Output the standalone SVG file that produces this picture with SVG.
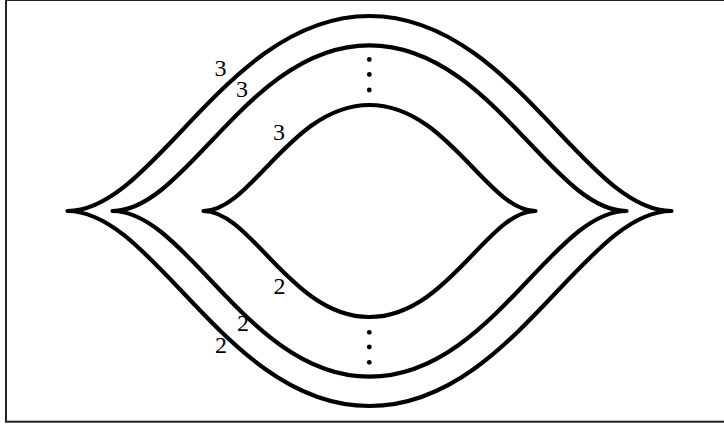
<svg xmlns="http://www.w3.org/2000/svg" width="724" height="425" viewBox="0 0 724 425">
  <style>
    .loop { fill: none; stroke: #000; stroke-width: 4.2; stroke-linecap: round; stroke-linejoin: round; }
    .lbl { font-family: "Liberation Serif", "Times New Roman", serif; font-size: 24px; fill: #000; text-anchor: middle; }
    .dot { fill: #000; }
  </style>
  <rect width="724" height="425" fill="#fff"/>
  <rect x="6" y="0" width="740" height="421.7" fill="none" stroke="#222" stroke-width="2"/>
  <g id="loops">
    <path id="outer" class="loop" d="M67.5,211 C155.1,211 227.6,16 369.5,16 C511.4,16 583.9,211 671.5,211 C583.9,211 511.4,406 369.5,406 C227.6,406 155.1,211 67.5,211 Z"/>
    <path id="middle" class="loop" d="M112.5,211 C187,211 248.7,45.3 369.5,45.3 C490.3,45.3 552,211 626.5,211 C552,211 490.3,376.7 369.5,376.7 C248.7,376.7 187,211 112.5,211 Z"/>
    <path id="inner" class="loop" d="M203.5,211 C251.6,211 291.5,105 369.5,105 C447.5,105 487.4,211 535.5,211 C487.4,211 447.5,317 369.5,317 C291.5,317 251.6,211 203.5,211 Z"/>
  </g>
  <g id="labels">
    <text class="lbl" x="220.5" y="76">3</text>
    <text class="lbl" x="242" y="97">3</text>
    <text class="lbl" x="279" y="140">3</text>
    <text class="lbl" x="279.5" y="294">2</text>
    <text class="lbl" x="243" y="331">2</text>
    <text class="lbl" x="221" y="353">2</text>
  </g>
  <g id="dots">
    <circle class="dot" cx="369.3" cy="59.5" r="2.4"/>
    <circle class="dot" cx="369.3" cy="74.5" r="2.4"/>
    <circle class="dot" cx="369.3" cy="90" r="2.4"/>
    <circle class="dot" cx="369.3" cy="332.3" r="2.4"/>
    <circle class="dot" cx="369.3" cy="347" r="2.4"/>
    <circle class="dot" cx="369.3" cy="362.3" r="2.4"/>
  </g>
</svg>
